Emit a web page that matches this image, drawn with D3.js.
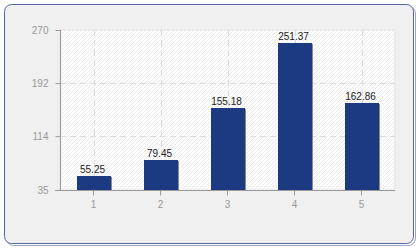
<!DOCTYPE html>
<html>
<head>
<meta charset="utf-8">
<script src="https://cdn.jsdelivr.net/npm/d3@7"></script>
<style>
  html, body { margin: 0; padding: 0; background: #fff; }
  svg { display: block; }
</style>
</head>
<body>
<div id="chart"></div>
<script>
// chart data
const categories = ["1", "2", "3", "4", "5"];
const values = [55.25, 79.45, 155.18, 251.37, 162.86];
const yTicks = [35, 114, 192, 270];

const W = 420, H = 250;
const plot = {left: 60, top: 30, right: 395, bottom: 190};

const svg = d3.select("#chart").append("svg")
    .attr("width", W)
    .attr("height", H)
    .style("font-family", "'Liberation Sans', Arial, sans-serif");

// hatch pattern for plot background
const defs = svg.append("defs");
const pat = defs.append("pattern")
    .attr("id", "hatch")
    .attr("patternUnits", "userSpaceOnUse")
    .attr("width", 4)
    .attr("height", 4);
pat.append("rect").attr("width", 4).attr("height", 4).attr("fill", "#fcfcfc");
pat.append("path")
    .attr("d", "M-1,1 l2,-2 M0,4 l4,-4 M3,5 l2,-2")
    .attr("stroke", "#ececec")
    .attr("stroke-width", 1);

// outer frame with shadow
svg.append("rect")
    .attr("x", 6.5).attr("y", 6.5)
    .attr("width", 409).attr("height", 239)
    .attr("rx", 7)
    .attr("fill", "none")
    .attr("stroke", "#9aa3cc");
svg.append("rect")
    .attr("x", 4.5).attr("y", 4.5)
    .attr("width", 409).attr("height", 239)
    .attr("rx", 7)
    .attr("fill", "#f0f0f0")
    .attr("stroke", "#5566a3");

const x = d3.scaleBand()
    .domain(categories)
    .range([plot.left, plot.right])
    .paddingInner(0.5)
    .paddingOuter(0.25);

const y = d3.scaleLinear()
    .domain([35, 270])
    .range([plot.bottom, plot.top]);

// plot background
svg.append("rect")
    .attr("x", plot.left).attr("y", plot.top)
    .attr("width", plot.right - plot.left)
    .attr("height", plot.bottom - plot.top)
    .attr("fill", "url(#hatch)")
    .attr("stroke", "#e4e4e4");

// dashed grid
svg.append("g")
    .selectAll("line")
    .data(yTicks.slice(1, -1))
    .join("line")
    .attr("x1", plot.left).attr("x2", plot.right)
    .attr("y1", d => Math.round(y(d)) + 0.5)
    .attr("y2", d => Math.round(y(d)) + 0.5)
    .attr("stroke", "#dcdcdc")
    .attr("stroke-dasharray", "6,4");

svg.append("g")
    .selectAll("line")
    .data(categories)
    .join("line")
    .attr("x1", d => Math.round(x(d) + x.bandwidth() / 2) + 0.5)
    .attr("x2", d => Math.round(x(d) + x.bandwidth() / 2) + 0.5)
    .attr("y1", plot.top).attr("y2", plot.bottom)
    .attr("stroke", "#dcdcdc")
    .attr("stroke-dasharray", "6,4");

// bars + shadow
const bars = svg.append("g");
bars.selectAll(".shadow")
    .data(values)
    .join("rect")
    .attr("class", "shadow")
    .attr("x", (d, i) => Math.round(x(categories[i])) + 1)
    .attr("y", d => Math.round(y(d)) + 1)
    .attr("width", Math.round(x.bandwidth()))
    .attr("height", d => plot.bottom - Math.round(y(d)) - 1)
    .attr("fill", "#8a8a8a");
bars.selectAll(".bar")
    .data(values)
    .join("rect")
    .attr("class", "bar")
    .attr("x", (d, i) => Math.round(x(categories[i])))
    .attr("y", d => Math.round(y(d)))
    .attr("width", Math.round(x.bandwidth()))
    .attr("height", d => plot.bottom - Math.round(y(d)))
    .attr("fill", "#1b3a82");

// value labels
svg.append("g")
    .selectAll("text")
    .data(values)
    .join("text")
    .attr("x", (d, i) => x(categories[i]) + x.bandwidth() / 2 - 1)
    .attr("y", d => y(d) - 3)
    .attr("text-anchor", "middle")
    .attr("font-size", 10)
    .attr("fill", "#222")
    .text(d => d.toFixed(2));

// axes
const yAxis = svg.append("g")
    .attr("transform", `translate(${plot.left + 0.5},0)`)
    .call(d3.axisLeft(y).tickValues(yTicks).tickSize(5).tickPadding(7));
const xAxis = svg.append("g")
    .attr("transform", `translate(0,${plot.bottom + 0.5})`)
    .call(d3.axisBottom(x).tickSize(5).tickPadding(5));

xAxis.select(".domain").attr("d", `M${plot.left - 5},0H${plot.right}`);
yAxis.select(".domain").attr("d", `M0,${plot.top}V${plot.bottom}`);

[xAxis, yAxis].forEach(a => {
    a.selectAll(".domain, .tick line").attr("stroke", "#999");
    a.selectAll("text")
        .attr("fill", "#999")
        .attr("font-size", 10)
        .attr("font-family", "'Liberation Sans', Arial, sans-serif");
});
</script>
</body>
</html>
